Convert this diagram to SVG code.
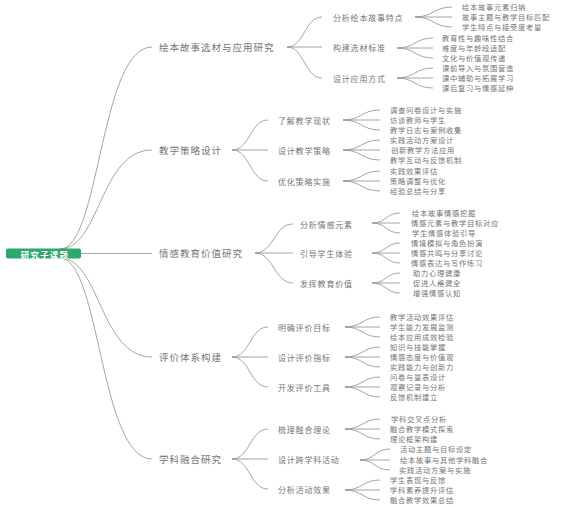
<svg xmlns="http://www.w3.org/2000/svg" width="581" height="507" viewBox="0 0 581 507">
<style>
text{font-family:"Noto Sans CJK SC","Noto Sans",sans-serif;fill:#747474;dominant-baseline:central}
.l1{font-size:9.5px;letter-spacing:1px}
.l2{font-size:8px;letter-spacing:0.8px}
.l3{font-size:7.3px;letter-spacing:0.7px}
.root{font-size:8.5px;font-weight:bold;fill:#fff;letter-spacing:1.2px;text-anchor:middle}
#connectors path{fill:none;stroke:#8e8e8e;stroke-width:0.8}
</style>
<rect width="581" height="507" fill="#fff"/>
<g id="connectors">
<path d="M60,249 C100,249 100,47 152,47"/>
<path d="M60,249 C100,249 100,150 152,150"/>
<path d="M81,253.5 L152,253.5"/>
<path d="M60,258 C100,258 100,357 152,357"/>
<path d="M60,258 C100,258 100,459 152,459"/>
<path d="M287,47 C304.5,47 304.5,17 322,17"/><path d="M287,47 L322,47"/><path d="M287,47 C304.5,47 304.5,78 322,78"/>
<path d="M232,150 C250,150 250,120 268,120"/><path d="M232,150 L268,150"/><path d="M232,150 C250,150 250,181 268,181"/>
<path d="M255,253 C274,253 274,224 293,224"/><path d="M255,253 L293,253"/><path d="M255,253 C274,253 274,283 293,283"/>
<path d="M232,357 C250,357 250,327 268,327"/><path d="M232,357 L268,357"/><path d="M232,357 C250,357 250,387 268,387"/>
<path d="M232,459 C250,459 250,429 268,429"/><path d="M232,459 L268,459"/><path d="M232,459 C250,459 250,489 268,489"/>
<path d="M415,17 C433.5,17 433.5,7 452,7"/><path d="M415,17 L452,17"/><path d="M415,17 C433.5,17 433.5,27 452,27"/>
<path d="M397,48 C415,48 415,38 433,38"/><path d="M397,48 L433,48"/><path d="M397,48 C415,48 415,58 433,58"/>
<path d="M397,78 C415,78 415,68 433,68"/><path d="M397,78 L433,78"/><path d="M397,78 C415,78 415,88 433,88"/>
<path d="M343,120 C361.5,120 361.5,110 380,110"/><path d="M343,120 L380,120"/><path d="M343,120 C361.5,120 361.5,130 380,130"/>
<path d="M343,150 C361.5,150 361.5,140 380,140"/><path d="M343,150 L380,150"/><path d="M343,150 C361.5,150 361.5,160 380,160"/>
<path d="M343,181 C361.5,181 361.5,171 380,171"/><path d="M343,181 L380,181"/><path d="M343,181 C361.5,181 361.5,191 380,191"/>
<path d="M372,223 C386,223 386,213 400,213"/><path d="M372,223 L400,223"/><path d="M372,223 C386,223 386,233 400,233"/>
<path d="M372,253 C386,253 386,243 400,243"/><path d="M372,253 L400,253"/><path d="M372,253 C386,253 386,263 400,263"/>
<path d="M372,283 C386,283 386,273 400,273"/><path d="M372,283 L400,283"/><path d="M372,283 C386,283 386,293 400,293"/>
<path d="M345,327 C362.5,327 362.5,317 380,317"/><path d="M345,327 L380,327"/><path d="M345,327 C362.5,327 362.5,337 380,337"/>
<path d="M345,357 C362.5,357 362.5,347 380,347"/><path d="M345,357 L380,357"/><path d="M345,357 C362.5,357 362.5,367 380,367"/>
<path d="M345,387 C362.5,387 362.5,377 380,377"/><path d="M345,387 L380,387"/><path d="M345,387 C362.5,387 362.5,397 380,397"/>
<path d="M345,429 C362.5,429 362.5,419 380,419"/><path d="M345,429 L380,429"/><path d="M345,429 C362.5,429 362.5,439 380,439"/>
<path d="M360,460 C375,460 375,449 390,449"/><path d="M360,460 L390,460"/><path d="M360,460 C375,460 375,470 390,470"/>
<path d="M345,490 C362.5,490 362.5,480 380,480"/><path d="M345,490 L380,490"/><path d="M345,490 C362.5,490 362.5,500 380,500"/>
</g>
<g id="root"><rect x="6" y="248.5" width="75" height="10" rx="2" fill="#2da86d"/><text class="root" x="45" y="253.8">研究子课题</text></g>
<g id="n1"><text class="l1" x="159" y="47">绘本故事选材与应用研究</text></g>
<g id="n2"><text class="l1" x="159" y="150">教学策略设计</text></g>
<g id="n3"><text class="l1" x="159" y="253">情感教育价值研究</text></g>
<g id="n4"><text class="l1" x="159" y="357">评价体系构建</text></g>
<g id="n5"><text class="l1" x="159" y="459">学科融合研究</text></g>
<g id="n1a"><text class="l2" x="333" y="17">分析绘本故事特点</text></g>
<g id="n1b"><text class="l2" x="333" y="47">构建选材标准</text></g>
<g id="n1c"><text class="l2" x="333" y="78">设计应用方式</text></g>
<g id="n2a"><text class="l2" x="278" y="120">了解教学现状</text></g>
<g id="n2b"><text class="l2" x="278" y="150">设计教学策略</text></g>
<g id="n2c"><text class="l2" x="278" y="181">优化策略实施</text></g>
<g id="n3a"><text class="l2" x="300" y="224">分析情感元素</text></g>
<g id="n3b"><text class="l2" x="300" y="253">引导学生体验</text></g>
<g id="n3c"><text class="l2" x="300" y="283">发挥教育价值</text></g>
<g id="n4a"><text class="l2" x="278" y="327">明确评价目标</text></g>
<g id="n4b"><text class="l2" x="278" y="357">设计评价指标</text></g>
<g id="n4c"><text class="l2" x="278" y="387">开发评价工具</text></g>
<g id="n5a"><text class="l2" x="278" y="429">梳理融合理论</text></g>
<g id="n5b"><text class="l2" x="278" y="459">设计跨学科活动</text></g>
<g id="n5c"><text class="l2" x="278" y="489">分析活动效果</text></g>
<g id="leaves1">
<text class="l3" x="462" y="7">绘本故事元素归纳</text>
<text class="l3" x="462" y="17">故事主题与教学目标匹配</text>
<text class="l3" x="462" y="27">学生特点与接受度考量</text>
<text class="l3" x="442" y="38">教育性与趣味性结合</text>
<text class="l3" x="442" y="48">难度与年龄段适配</text>
<text class="l3" x="442" y="58">文化与价值观传递</text>
<text class="l3" x="442" y="68">课前导入与氛围营造</text>
<text class="l3" x="442" y="78">课中辅助与拓展学习</text>
<text class="l3" x="442" y="88">课后复习与情感延伸</text>
</g>
<g id="leaves2">
<text class="l3" x="390" y="110">调查问卷设计与实施</text>
<text class="l3" x="390" y="120">访谈教师与学生</text>
<text class="l3" x="390" y="130">教学日志与案例收集</text>
<text class="l3" x="390" y="140">实践活动方案设计</text>
<text class="l3" x="391" y="150">创新教学方法应用</text>
<text class="l3" x="390" y="160">教学互动与反馈机制</text>
<text class="l3" x="390" y="171">实践效果评估</text>
<text class="l3" x="390" y="181">策略调整与优化</text>
<text class="l3" x="390" y="191">经验总结与分享</text>
</g>
<g id="leaves3">
<text class="l3" x="412" y="213">绘本故事情感挖掘</text>
<text class="l3" x="411" y="223">情感元素与教学目标对应</text>
<text class="l3" x="412" y="233">学生情感体验引导</text>
<text class="l3" x="411" y="243">情境模拟与角色扮演</text>
<text class="l3" x="411" y="253">情感共鸣与分享讨论</text>
<text class="l3" x="411" y="263">情感表达与写作练习</text>
<text class="l3" x="413" y="273">助力心理健康</text>
<text class="l3" x="413" y="283">促进人格健全</text>
<text class="l3" x="413" y="293">增强情感认知</text>
</g>
<g id="leaves4">
<text class="l3" x="390" y="317">教学活动效果评估</text>
<text class="l3" x="390" y="327">学生能力发展监测</text>
<text class="l3" x="390" y="337">绘本应用成效检验</text>
<text class="l3" x="390" y="347">知识与技能掌握</text>
<text class="l3" x="390" y="357">情感态度与价值观</text>
<text class="l3" x="390" y="367">实践能力与创新力</text>
<text class="l3" x="390" y="377">问卷与量表设计</text>
<text class="l3" x="390" y="387">观察记录与分析</text>
<text class="l3" x="390" y="397">反馈机制建立</text>
</g>
<g id="leaves5">
<text class="l3" x="391" y="419">学科交叉点分析</text>
<text class="l3" x="390" y="429">融合教学模式探索</text>
<text class="l3" x="390" y="439">理论框架构建</text>
<text class="l3" x="400" y="449">活动主题与目标设定</text>
<text class="l3" x="400" y="460">绘本故事与其他学科融合</text>
<text class="l3" x="399" y="470">实践活动方案与实施</text>
<text class="l3" x="390" y="480">学生表现与反馈</text>
<text class="l3" x="390" y="490">学科素养提升评估</text>
<text class="l3" x="390" y="500">融合教学效果总结</text>
</g>
</svg>
